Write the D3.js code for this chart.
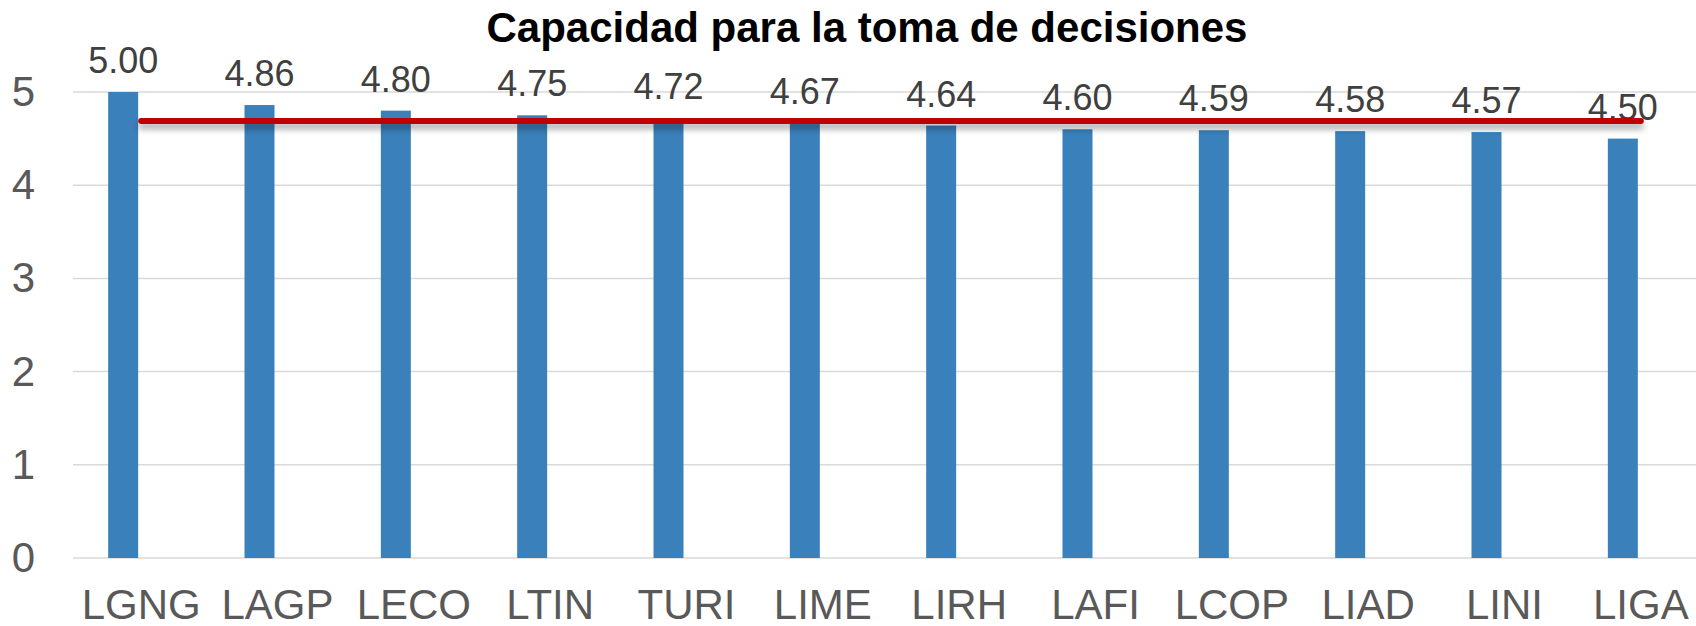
<html>
<head>
<meta charset="utf-8">
<style>
  body { margin: 0; background: #ffffff; }
  text { font-family: Arial, "Liberation Sans", sans-serif; }
</style>
</head>
<body>
<svg id="chart"></svg>
<script src="https://d3js.org/d3.v7.min.js"></script>
<script>

// carreras (categorias del eje x)
var carreras = ["LGNG","LAGP","LECO","LTIN","TURI","LIME","LIRH","LAFI","LCOP","LIAD","LINI","LIGA"];

// promedio de cada carrera
var promedios = [5.00, 4.86, 4.80, 4.75, 4.72, 4.67, 4.64, 4.60, 4.59, 4.58, 4.57, 4.50];

// marcas del eje y
var ticksY = [0, 1, 2, 3, 4, 5];

var titulo = "Capacidad para la toma de decisiones";

var screen = {width:1696, height:626};

var svg = d3.select("#chart")
    .attr("width", screen.width)
    .attr("height", screen.height);

// the plot area runs past the right edge of the picture (the original is cropped)
var plot = {left:73, right:1709, top:92, bottom:558};

var xScale = d3.scaleBand()
    .domain(carreras)
    .range([plot.left, plot.right])
    .paddingInner(0)
    .paddingOuter(0);

var yScale = d3.scaleLinear()
    .domain([0, 5])
    .range([plot.bottom, plot.top]);

var barWidth = xScale.bandwidth() * 0.22;
// bars sit a little to the left of the category centre
var barShift = -18;

var defs = svg.append("defs");
var shadow = defs.append("filter")
    .attr("id", "sombra")
    .attr("filterUnits", "userSpaceOnUse")
    .attr("x", 0).attr("y", 0)
    .attr("width", screen.width).attr("height", screen.height);
shadow.append("feDropShadow")
    .attr("dx", 0).attr("dy", 5)
    .attr("stdDeviation", 3)
    .attr("flood-color", "#000")
    .attr("flood-opacity", 0.35);

// gridlines
svg.append("g")
    .attr("class", "grid")
    .selectAll("line")
    .data(ticksY)
    .enter()
    .append("line")
    .attr("x1", plot.left)
    .attr("x2", screen.width)
    .attr("y1", function(d){ return yScale(d); })
    .attr("y2", function(d){ return yScale(d); })
    .attr("stroke", "#d9d9d9")
    .attr("stroke-width", 1.5);

// y axis labels
var yAxis = d3.axisLeft(yScale)
    .tickValues(ticksY)
    .tickSize(0)
    .tickPadding(0)
    .tickFormat(d3.format("d"));

var gy = svg.append("g")
    .attr("transform", "translate(35,0)")
    .call(yAxis);
gy.select(".domain").remove();
gy.selectAll("text")
    .attr("font-size", 42)
    .attr("fill", "#595959")
    .attr("font-family", "Arial, 'Liberation Sans', sans-serif");

// x axis labels
var xAxis = d3.axisBottom(xScale)
    .tickSize(0)
    .tickPadding(0);

var gx = svg.append("g")
    .attr("transform", "translate(0," + plot.bottom + ")")
    .call(xAxis);
gx.select(".domain").remove();
gx.selectAll("text")
    .attr("dy", 0)
    .attr("y", 61)
    .attr("font-size", 42)
    .attr("fill", "#595959")
    .attr("font-family", "Arial, 'Liberation Sans', sans-serif");

// bars
svg.append("g")
    .selectAll("rect")
    .data(carreras)
    .enter()
    .append("rect")
    .attr("x", function(c){ return xScale(c) + xScale.bandwidth()/2 + barShift - barWidth/2; })
    .attr("y", function(c, i){ return yScale(promedios[i]); })
    .attr("width", barWidth)
    .attr("height", function(c, i){ return plot.bottom - yScale(promedios[i]); })
    .attr("fill", "#3a80ba");

// data labels
svg.append("g")
    .selectAll("text")
    .data(carreras)
    .enter()
    .append("text")
    .attr("x", function(c){ return xScale(c) + xScale.bandwidth()/2 + barShift; })
    .attr("y", function(c, i){ return yScale(promedios[i]) - 19; })
    .attr("text-anchor", "middle")
    .attr("font-size", 36)
    .attr("fill", "#404040")
    .text(function(c, i){ return d3.format(".2f")(promedios[i]); });

// mean line
var media = d3.mean(promedios);
var linea = d3.line()
    .x(function(c){ return xScale(c) + xScale.bandwidth()/2; })
    .y(function(){ return yScale(media); });

svg.append("path")
    .datum(carreras)
    .attr("d", linea)
    .attr("fill", "none")
    .attr("stroke", "#c00000")
    .attr("stroke-width", 6)
    .attr("stroke-linecap", "round")
    .attr("filter", "url(#sombra)");

// title
svg.append("text")
    .attr("x", 867)
    .attr("y", 42)
    .attr("text-anchor", "middle")
    .attr("font-size", 42)
    .attr("font-weight", "bold")
    .attr("fill", "#000")
    .text(titulo);

</script>
</body>
</html>
